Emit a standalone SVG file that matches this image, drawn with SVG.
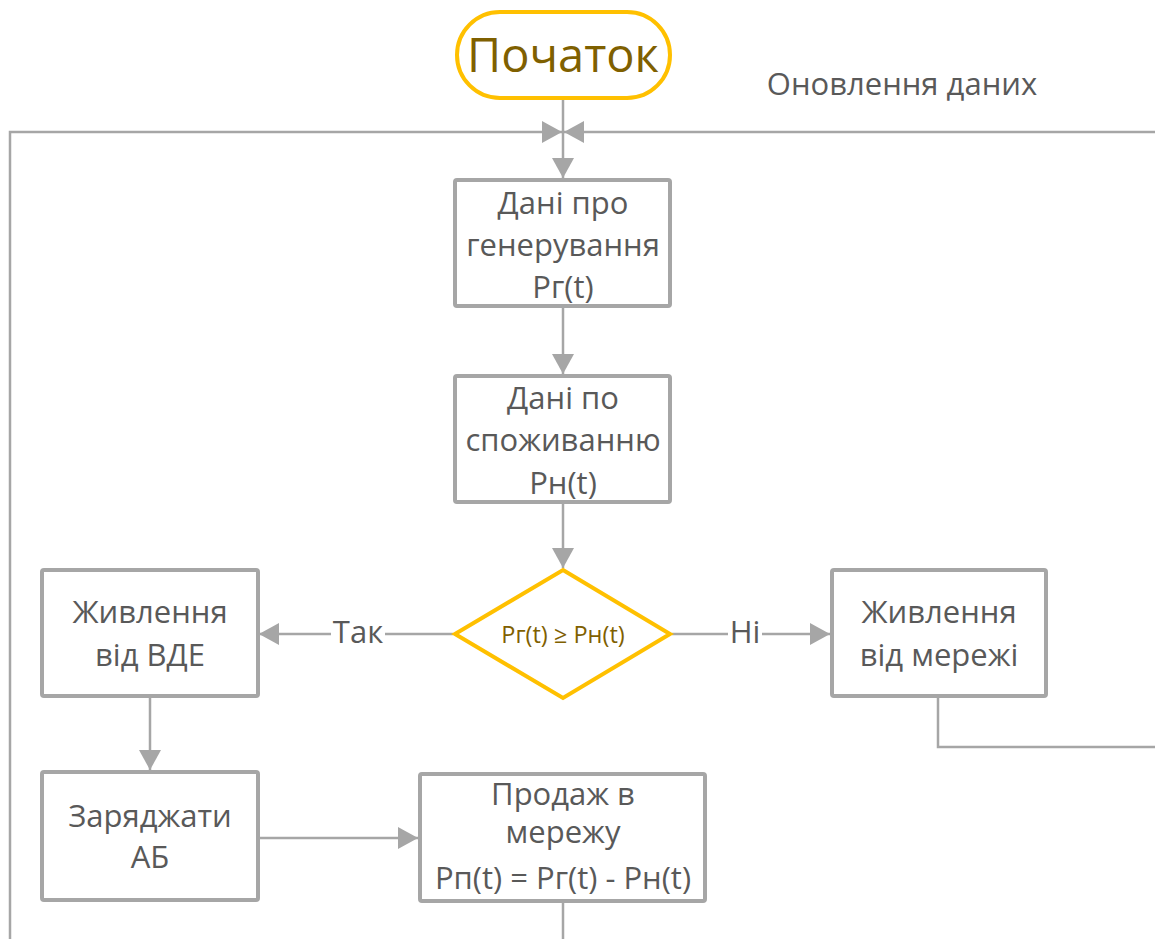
<svg xmlns="http://www.w3.org/2000/svg" width="1155" height="939" viewBox="0 0 1155 939">
<style>
.box{fill:#fff;stroke:#A6A6A6;stroke-width:4}
.gold{fill:#fff;stroke:#FFC000;stroke-width:4}
.t{font-family:"Open Sans","Liberation Sans",sans-serif;fill:#595959;text-anchor:middle;font-size:31px}
.g{font-family:"Open Sans","Liberation Sans",sans-serif;fill:#7F6000;text-anchor:middle}
.c{fill:none;stroke:#A6A6A6;stroke-width:2.5}
</style>
<defs>
<marker id="arr" viewBox="0 0 20 22" refX="20" refY="11" markerWidth="20" markerHeight="22" orient="auto" markerUnits="userSpaceOnUse">
<path d="M0,0 L20,11 L0,22 z" fill="#A6A6A6"/>
</marker>
</defs>
<rect width="1155" height="939" fill="#fff"/>
<g id="connectors">
<path class="c" d="M10,939 V132 H562" marker-end="url(#arr)"/>
<path class="c" d="M1155,132 H564" marker-end="url(#arr)"/>
<path class="c" d="M563,100 V178" marker-end="url(#arr)"/>
<path class="c" d="M563,308 V374" marker-end="url(#arr)"/>
<path class="c" d="M563,504 V568" marker-end="url(#arr)"/>
<path class="c" d="M453,634 H259" marker-end="url(#arr)"/>
<path class="c" d="M672,634 H830" marker-end="url(#arr)"/>
<path class="c" d="M938,698 V747 H1155"/>
<path class="c" d="M150,698 V770" marker-end="url(#arr)"/>
<path class="c" d="M260,838 H418" marker-end="url(#arr)"/>
<path class="c" d="M563,903 V939"/>
<rect x="331" y="616" width="54" height="34" fill="#fff"/>
<text class="t" x="358" y="643">Так</text>
<rect x="728" y="616" width="34" height="34" fill="#fff"/>
<text class="t" x="745" y="643">Ні</text>
<text class="t" x="902" y="95" font-size="29">Оновлення даних</text>
</g>
<g id="start">
<rect class="gold" x="457" y="12" width="213" height="86" rx="43"/>
<text class="g" x="563" y="72" font-size="47">Початок</text>
</g>
<g id="gen">
<rect class="box" x="455" y="180" width="215" height="126" rx="2"/>
<text class="t" x="563" y="214">Дані про</text>
<text class="t" x="563" y="256">генерування</text>
<text class="t" x="563" y="298">Pг(t)</text>
</g>
<g id="cons">
<rect class="box" x="455" y="376" width="215" height="126" rx="2"/>
<text class="t" x="563" y="409">Дані по</text>
<text class="t" x="563" y="451">споживанню</text>
<text class="t" x="563" y="494">Pн(t)</text>
</g>
<g id="decision">
<polygon class="gold" points="563,570 670,634 563,698 455,634"/>
<text class="g" x="563" y="643" font-size="23.5">Pг(t) ≥ Pн(t)</text>
</g>
<g id="res">
<rect class="box" x="42" y="570" width="216" height="126" rx="2"/>
<text class="t" x="150" y="623">Живлення</text>
<text class="t" x="150" y="666">від ВДЕ</text>
</g>
<g id="grid">
<rect class="box" x="832" y="570" width="214" height="126" rx="2"/>
<text class="t" x="939" y="623">Живлення</text>
<text class="t" x="939" y="666">від мережі</text>
</g>
<g id="charge">
<rect class="box" x="42" y="772" width="216" height="128" rx="2"/>
<text class="t" x="150" y="827">Заряджати</text>
<text class="t" x="150" y="868">АБ</text>
</g>
<g id="sell">
<rect class="box" x="420" y="774" width="285" height="127" rx="2"/>
<text class="t" x="563" y="805">Продаж в</text>
<text class="t" x="563" y="843">мережу</text>
<text class="t" x="563" y="889" font-size="24">Pп(t) = Pг(t) - Pн(t)</text>
</g>
</svg>
